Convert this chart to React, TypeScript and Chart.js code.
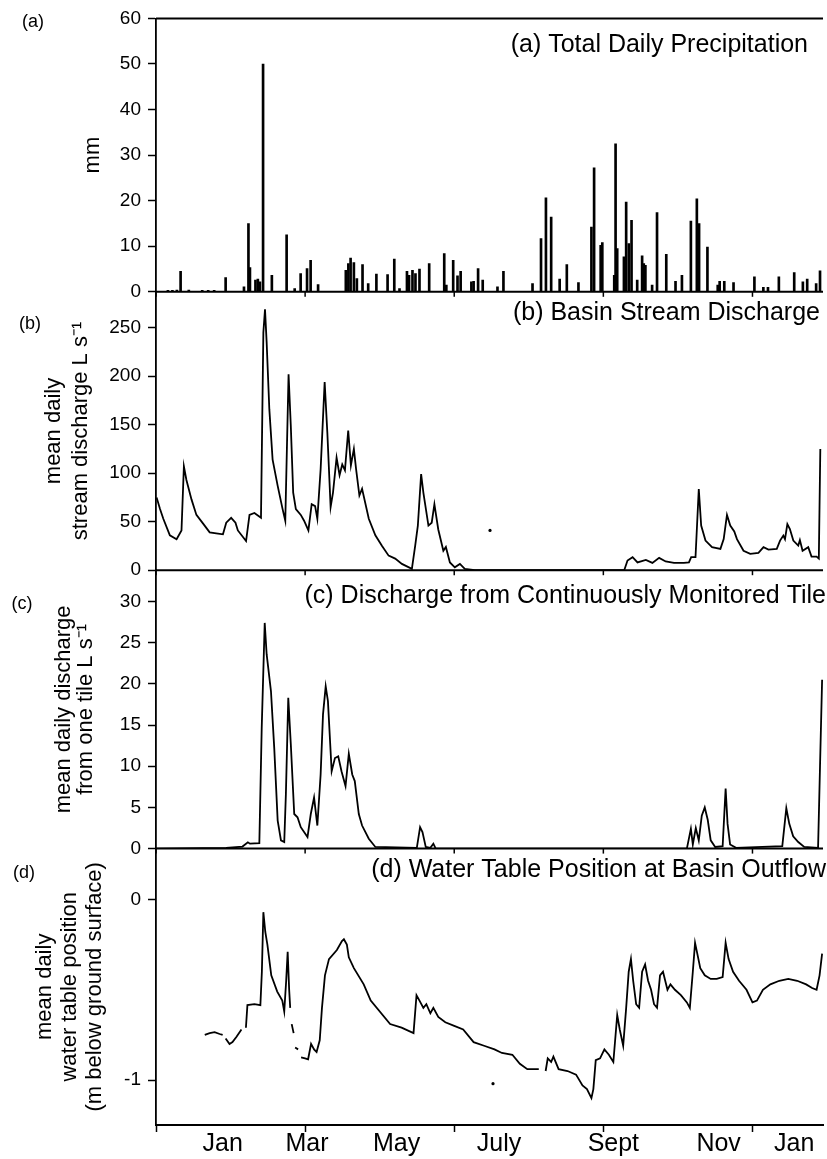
import React, { useEffect, useRef } from 'react';
import { Chart, registerables } from 'chart.js';

Chart.register(...registerables);

// ---------- x axis (days from start of record) ----------
const xTickDays = [0, 100, 200, 300, 400];
const monthDays = [44.7, 101.3, 161.3, 230, 306.7, 377.3, 428];
const monthLabels = ['Jan', 'Mar', 'May', 'July', 'Sept', 'Nov', 'Jan'];

// ---------- (a) precipitation ----------
const precipDays = [8, 11, 14, 16.5, 22, 31, 35, 39, 46.7, 59, 62, 63, 66.7, 68.3, 69.7, 71.8, 77.7, 87.6, 93, 97, 101.3, 103.7, 108.7, 127.3, 129, 130.5, 132.7, 134.7, 138.5, 142.3, 147.8, 155.3, 159.8, 163.3, 168.3, 169.7, 172, 174, 176.7, 183.2, 193.3, 194.7, 199.3, 202.2, 204.3, 211.5, 213, 216, 219.1, 229, 233, 252.5, 258.2, 261.5, 265, 270.7, 275.5, 283.3, 292, 293.8, 298.2, 299.3, 307.3, 308.2, 309.3, 313.8, 315.3, 317.1, 318.9, 322.7, 326, 327.1, 328.2, 332.7, 336, 342.2, 348.4, 352.7, 358.7, 362.7, 364.2, 369.8, 376.7, 378, 381.1, 387.3, 401.3, 407.3, 410.4, 417.7, 428, 433.8, 436.7, 442.7, 445.3];
const precipMm = [0.3, 0.3, 0.4, 4.5, 0.4, 0.3, 0.3, 0.3, 3.1, 1.1, 15, 5.3, 2.6, 2.8, 2.2, 50, 3.6, 12.5, 0.7, 4, 5.1, 6.9, 1.6, 4.7, 6.2, 7.4, 6.4, 2.9, 6, 1.8, 3.9, 3.8, 7.2, 0.7, 4.5, 3.6, 4.7, 4, 5, 6.2, 8.4, 1.5, 6.9, 3.5, 4.5, 2.2, 2.3, 5.1, 2.6, 1.1, 4.5, 1.8, 11.7, 20.6, 16.4, 2.8, 6, 2, 14.2, 27.2, 10.2, 10.8, 3.6, 32.5, 9.5, 7.7, 19.7, 10.6, 15.7, 2.6, 7.9, 6.2, 5.8, 1.5, 17.4, 8.2, 2.3, 3.6, 15.5, 20.4, 15, 9.8, 1.5, 2.3, 2.3, 2, 3.3, 1, 1, 3.3, 4.2, 2.2, 2.8, 1.8, 4.6];

// ---------- (b) basin stream discharge ----------
const streamDays = [0.4, 2.7, 4.9, 9.3, 13.8, 17.1, 18.7, 20.4, 23.8, 27.1, 31.6, 36, 40.4, 44.9, 47.1, 50.4, 53.3, 54.9, 60.4, 62.7, 66, 70.4, 72, 73.1, 74.2, 76, 78.2, 81.6, 84.9, 86.7, 88.9, 90.4, 92, 93.8, 97.1, 99.3, 102.2, 104.4, 106.7, 108.2, 110.4, 113.1, 114.9, 117.1, 118.7, 121.1, 123.1, 124.9, 126.7, 128.9, 130.7, 132.7, 134.2, 136.4, 138.2, 142.7, 147.1, 151.6, 156, 160.4, 164.9, 171.6, 173.8, 175.6, 177.8, 179.3, 182.7, 184.9, 186.7, 189.3, 192.7, 194.4, 197.1, 200.4, 203.8, 207.1, 213.8, 250, 314, 316.2, 319.6, 322.9, 328.5, 332.9, 337.4, 341.8, 347.4, 354, 357.4, 358.9, 361.8, 364, 365.6, 368.5, 372.9, 378.5, 380.7, 382.9, 385.1, 387.8, 389.6, 394, 398.5, 404, 407.4, 410.7, 416.3, 418.5, 420.7, 421.8, 423.4, 425.1, 427.4, 430.7, 431.8, 433.6, 437.4, 439.6, 443, 444.5, 445.5];
const streamFlow = [75, 63, 53, 36, 32, 41, 107, 93, 73, 57, 48, 39, 38, 37, 49, 54, 49, 41, 30, 57, 59, 54, 245, 269, 235, 166, 114, 87, 63, 51, 202, 149, 80, 63, 57, 51, 41, 68, 66, 53, 104, 194, 142, 65, 80, 116, 98, 109, 103, 144, 108, 125, 104, 77, 84, 53, 36, 25, 15, 12, 6.5, 1.4, 25, 46, 99, 80, 46, 49, 68, 42, 20, 24, 8, 3, 6.5, 1.3, 0, 0, 0, 10, 13.4, 8, 10.6, 7.5, 12.7, 9, 7.5, 7.5, 8, 13.4, 13.4, 83.7, 46, 30.5, 23.7, 22, 32, 57, 46, 40, 32, 20, 16.8, 17.8, 23.7, 21.3, 22, 30.5, 35.7, 32, 47.6, 42.5, 30.5, 25.4, 31, 20, 23.7, 14, 14, 12, 125];
const streamLoneDays = [224];
const streamLoneFlow = [41];

// ---------- (c) monitored tile discharge ----------
const tileDays = [0, 47, 58, 61.6, 63, 69.3, 70.9, 72.9, 74.2, 77.1, 79.3, 81.6, 83.8, 86, 87.1, 88.7, 90.4, 92.7, 94.9, 97.1, 101.6, 103.8, 106, 108.2, 110.4, 112, 113.8, 115.3, 117.8, 120, 122.2, 124.4, 127.1, 129.3, 131.6, 133.3, 136, 138.2, 142.7, 147.1, 174.9, 177.1, 178.7, 180.9, 184, 186, 187.6, 356, 358.7, 360, 362, 364, 366, 368, 370, 372, 375, 380, 382, 383.3, 385, 389, 420, 422.7, 424.7, 427.3, 430.7, 434.7, 444, 445.3, 446.7];
const tileFlow = [0, 0.1, 0.25, 0.76, 0.6, 0.65, 14.7, 27.4, 23.6, 19.1, 12.2, 3.4, 1, 0.8, 6.6, 18.3, 12.7, 4.2, 3.8, 2.6, 1.4, 4.2, 6.2, 2.8, 9, 16.3, 19.7, 17.9, 9.4, 11, 11.2, 9.4, 7.6, 11.5, 9, 8.2, 4.2, 2.8, 1.2, 0.2, 0.1, 2.6, 2, 0.2, 0.1, 0.6, 0, 0, 2.4, 0.5, 2.5, 1, 4, 5, 3.5, 1, 0.2, 0.3, 7.3, 3, 0.5, 0.1, 0.3, 4.9, 3, 1.5, 0.8, 0.2, 0.1, 10, 20.5];

// ---------- (d) water table position (null = gap in record) ----------
const wtDays = [32.7, 36, 39.3, 42.7, 44.7, 45.5, 46.7, 49.3, 51.3, 54, 57.3, 58.3, 60.3, 61.3, 66, 70, 71, 72, 73.3, 74.7, 77.3, 81.3, 84.7, 86, 87.3, 88.3, 89.3, 90, 90.5, 91, 92.3, 92.8, 93.3, 95.3, 96.3, 97.3, 100, 102, 104, 106, 107.7, 109.8, 111.3, 113.3, 116, 121.3, 124.7, 126, 128, 129.3, 132.7, 139.3, 144, 157, 164.7, 172.7, 174.7, 176.7, 179.3, 181.3, 184, 186, 189.3, 194, 200, 206, 213, 220, 227, 232, 239, 244, 249, 256.7, 257.5, 261.3, 262.7, 265, 266.5, 270, 276, 281.7, 286, 289, 292, 293.3, 294.9, 297.8, 300.7, 303.7, 306.7, 309.3, 311, 313.3, 315.3, 317, 318.5, 320, 322, 324, 326, 328, 330, 332, 334, 336, 338, 340, 343, 345, 348, 352, 356, 358, 360, 361.5, 363, 365, 368, 372, 376, 380, 382, 384, 387, 391, 396, 400, 403, 407, 412, 418, 424, 430, 436, 440, 443, 445, 446.7];
const wtDepth = [-0.75, -0.74, -0.735, -0.745, -0.75, null, -0.77, -0.8, -0.79, -0.76, -0.72, null, -0.71, -0.585, -0.58, -0.585, -0.4, -0.07, -0.18, -0.25, -0.42, -0.51, -0.56, -0.62, -0.45, -0.29, -0.5, -0.6, null, -0.69, -0.74, null, -0.82, -0.83, null, -0.875, -0.88, -0.885, -0.8, -0.83, -0.845, -0.78, -0.6, -0.42, -0.33, -0.28, -0.23, -0.22, -0.25, -0.32, -0.38, -0.47, -0.56, -0.69, -0.71, -0.74, -0.53, -0.56, -0.6, -0.58, -0.63, -0.6, -0.65, -0.68, -0.7, -0.72, -0.79, -0.81, -0.83, -0.85, -0.86, -0.91, -0.94, -0.94, null, -0.95, -0.88, -0.9, -0.87, -0.94, -0.95, -0.97, -1.03, -1.05, -1.1, -1.05, -0.89, -0.88, -0.83, -0.86, -0.9, -0.64, -0.72, -0.81, -0.6, -0.4, -0.33, -0.45, -0.58, -0.6, -0.4, -0.36, -0.45, -0.5, -0.58, -0.6, -0.42, -0.4, -0.5, -0.47, -0.5, -0.53, -0.57, -0.6, -0.4, -0.24, -0.3, -0.38, -0.42, -0.44, -0.44, -0.43, -0.24, -0.33, -0.4, -0.45, -0.5, -0.57, -0.56, -0.5, -0.47, -0.45, -0.44, -0.45, -0.47, -0.49, -0.5, -0.42, -0.3];
const wtLoneDays = [226];
const wtLoneDepth = [-1.02];

// ---------- axis ticks and labels ----------
const precipTicks = [0, 10, 20, 30, 40, 50, 60];
const streamTicks = [0, 50, 100, 150, 200, 250];
const tileTicks = [0, 5, 10, 15, 20, 25, 30];
const wtTicks = [-1, 0];
const panelTitles = [
  '(a) Total Daily Precipitation',
  '(b) Basin Stream Discharge',
  '(c) Discharge from Continuously Monitored Tile',
  '(d) Water Table Position at Basin Outflow',
];
const panelLetters = ['(a)', '(b)', '(c)', '(d)'];

const FONT = '"Liberation Sans", Arial, Helvetica, sans-serif';
const W = 827;
const H = 1159;

const pts = (xs: number[], ys: (number | null)[]) => xs.map((x, i) => ({ x, y: ys[i] }));

function yAxis(opts: any) {
  const { min, max, ticks, title, weight, stackWeight, titlePad, lineHeight } = opts;
  return {
    type: 'linear',
    position: 'left',
    stack: 'panels',
    stackWeight,
    weight,
    min,
    max,
    offset: false,
    afterBuildTicks: (s: any) => {
      s.ticks = ticks.map((v: number) => ({ value: v }));
    },
    afterFit: (s: any) => {
      s.width = 156;
    },
    grid: {
      display: true,
      drawOnChartArea: false,
      drawTicks: true,
      tickLength: 8,
      tickWidth: 1.5,
      tickColor: '#000',
    },
    border: { display: true, color: '#000', width: 1.8 },
    ticks: {
      color: '#000',
      font: { size: 19, family: FONT },
      padding: 7,
      autoSkip: false,
      callback: (v: any) => String(v),
    },
    title: {
      display: true,
      text: title,
      color: '#000',
      font: { size: 22, family: FONT, lineHeight },
      padding: { top: titlePad, bottom: 0 },
    },
  };
}

const panelPlugin = {
  id: 'panelDecor',
  afterDraw(chart: any) {
    const { ctx, chartArea, scales } = chart;
    const ids = ['ya', 'yb', 'yc', 'yd'];
    ctx.save();
    ctx.strokeStyle = '#000';
    ctx.lineWidth = 2;
    ctx.beginPath();
    ctx.moveTo(chartArea.left, scales.ya.top);
    ctx.lineTo(chartArea.right, scales.ya.top);
    ctx.stroke();
    ['ya', 'yb', 'yc'].forEach((id) => {
      const y = scales[id].bottom;
      ctx.lineWidth = 2;
      ctx.beginPath();
      ctx.moveTo(chartArea.left, y);
      ctx.lineTo(chartArea.right, y);
      ctx.stroke();
      ctx.lineWidth = 1.5;
      xTickDays.forEach((d) => {
        const px = scales.x.getPixelForValue(d);
        ctx.beginPath();
        ctx.moveTo(px, y);
        ctx.lineTo(px, y + 5);
        ctx.stroke();
      });
    });
    const rights = [808, 820, 826, 826];
    const offs = [27, 21, 26, 22];
    ctx.fillStyle = '#000';
    ctx.font = `25px ${FONT}`;
    ctx.textAlign = 'right';
    ctx.textBaseline = 'middle';
    ids.forEach((id, i) => {
      ctx.fillText(panelTitles[i], rights[i], scales[id].top + offs[i]);
    });
    const letterPos = [
      [33, 22],
      [30, 324],
      [22, 604],
      [24, 873],
    ];
    ctx.font = `18px ${FONT}`;
    ctx.textAlign = 'center';
    panelLetters.forEach((t, i) => {
      ctx.fillText(t, letterPos[i][0], letterPos[i][1]);
    });
    ctx.restore();
  },
};

export default function App() {
  const ref = useRef<HTMLCanvasElement>(null);

  useEffect(() => {
    const canvas = ref.current;
    if (!canvas) return;
    Chart.defaults.font.family = FONT;
    Chart.defaults.color = '#000';

    const lineStyle = {
      borderColor: '#000',
      borderWidth: 1.8,
      pointRadius: 0,
      tension: 0,
      spanGaps: false,
      fill: false,
    };

    const chart = new Chart(canvas, {
      type: 'bar',
      data: {
        datasets: [
          {
            type: 'bar',
            label: 'precip',
            data: pts(precipDays, precipMm),
            xAxisID: 'x',
            yAxisID: 'ya',
            backgroundColor: '#000',
            borderWidth: 0,
            barThickness: 2,
          },
          { type: 'line', label: 'stream', data: pts(streamDays, streamFlow), xAxisID: 'x', yAxisID: 'yb', ...lineStyle },
          {
            type: 'line',
            label: 'streamLone',
            data: pts(streamLoneDays, streamLoneFlow),
            xAxisID: 'x',
            yAxisID: 'yb',
            showLine: false,
            pointRadius: 1.6,
            pointBackgroundColor: '#000',
            pointBorderWidth: 0,
          },
          { type: 'line', label: 'tile', data: pts(tileDays, tileFlow), xAxisID: 'x', yAxisID: 'yc', ...lineStyle },
          { type: 'line', label: 'wt', data: pts(wtDays, wtDepth), xAxisID: 'x', yAxisID: 'yd', ...lineStyle },
          {
            type: 'line',
            label: 'wtLone',
            data: pts(wtLoneDays, wtLoneDepth),
            xAxisID: 'x',
            yAxisID: 'yd',
            showLine: false,
            pointRadius: 1.6,
            pointBackgroundColor: '#000',
            pointBorderWidth: 0,
          },
        ],
      } as any,
      options: {
        animation: false,
        responsive: false,
        devicePixelRatio: 1,
        layout: { padding: { top: 16, right: 0, bottom: 0, left: 0 } },
        plugins: { legend: { display: false }, tooltip: { enabled: false } },
        scales: {
          x: {
            type: 'linear',
            position: 'bottom',
            weight: 0,
            min: 0,
            max: 447.3,
            offset: false,
            afterBuildTicks: (s: any) => {
              s.ticks = xTickDays.map((v) => ({ value: v }));
            },
            afterFit: (s: any) => {
              s.height = 8;
            },
            grid: {
              display: true,
              offset: false,
              drawOnChartArea: false,
              drawTicks: true,
              tickLength: 7,
              tickWidth: 1.5,
              tickColor: '#000',
            },
            border: { display: true, color: '#000', width: 2 },
            ticks: { display: false },
          },
          x2: {
            type: 'linear',
            position: 'bottom',
            weight: 1,
            min: 0,
            max: 447.3,
            offset: false,
            afterBuildTicks: (s: any) => {
              s.ticks = monthDays.map((v) => ({ value: v }));
            },
            afterFit: (s: any) => {
              s.height = 26;
            },
            grid: { display: false, drawTicks: false, offset: false },
            border: { display: false },
            ticks: {
              color: '#000',
              font: { size: 25, family: FONT, lineHeight: 1 },
              padding: -1,
              maxRotation: 0,
              minRotation: 0,
              autoSkip: false,
              callback: (_v: any, i: number) => monthLabels[i],
            },
          },
          yd: yAxis({ min: -1.249, max: 0.282, ticks: wtTicks, title: ['mean daily', 'water table position', '(m below ground surface)'], weight: 1, stackWeight: 277, titlePad: 32, lineHeight: 1.15 }),
          yc: yAxis({ min: 0, max: 33.8, ticks: tileTicks, title: ['mean daily discharge', 'from one tile L s⁻¹'], weight: 2, stackWeight: 279, titlePad: 53, lineHeight: 1.0 }),
          yb: yAxis({ min: 0, max: 287, ticks: streamTicks, title: ['mean daily', 'stream discharge L s⁻¹'], weight: 3, stackWeight: 279, titlePad: 40, lineHeight: 1.25 }),
          ya: yAxis({ min: 0, max: 60, ticks: precipTicks, title: 'mm', weight: 4, stackWeight: 274, titlePad: 80, lineHeight: 1.2 }),
        },
      } as any,
      plugins: [panelPlugin],
    });

    return () => chart.destroy();
  }, []);

  return (
    <div style={{ position: 'absolute', left: 0, top: 0, width: W, height: H, background: '#fff' }}>
      <canvas ref={ref} width={W} height={H} style={{ display: 'block', width: W, height: H }} />
    </div>
  );
}
